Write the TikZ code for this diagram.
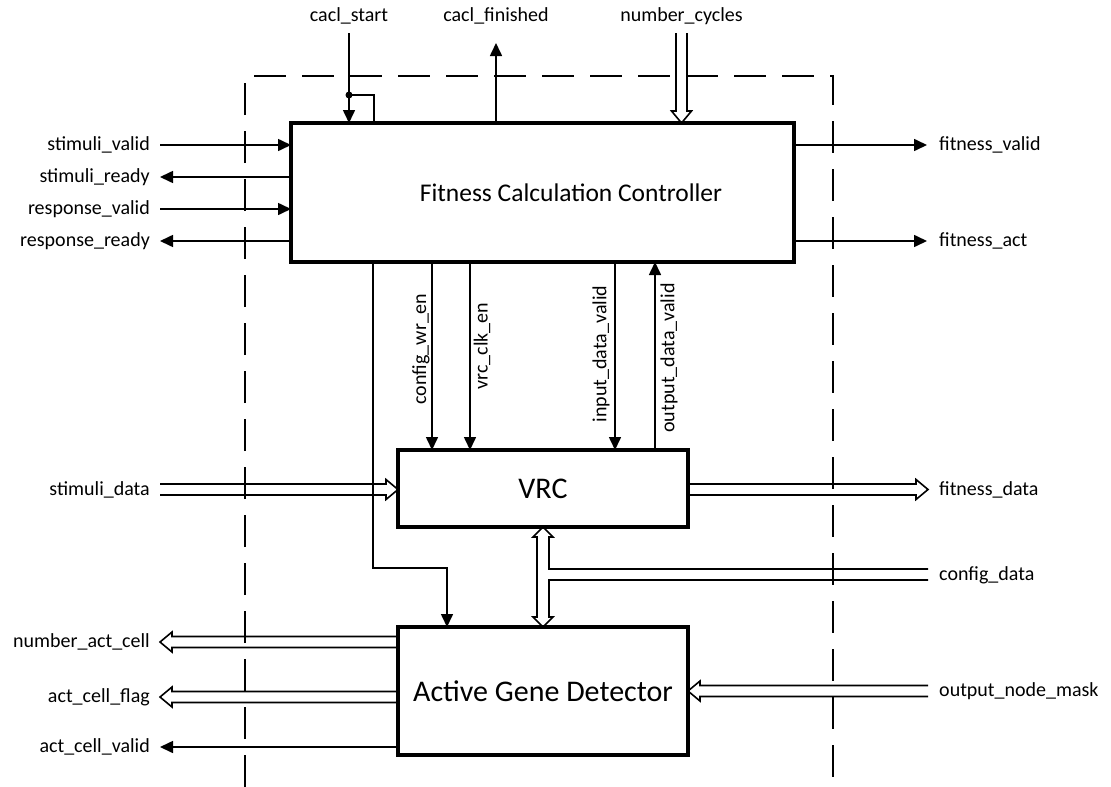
\documentclass[tikz,border=0pt]{standalone}
\usepackage{fontspec}
\setmainfont{Carlito}
\usetikzlibrary{arrows.meta,calc}

\tikzset{
  blk/.style={draw, line width=3.2pt, inner sep=0pt, outer sep=0pt},
  sig/.style={line width=1.6pt},
  tip/.style={-{Triangle[length=13pt,width=12pt]}},
  lbl/.style={inner sep=0pt, font=\fontsize{20}{24}\selectfont},
  ttl/.style={font=\fontsize{25.5}{30}\selectfont},
  bigttl/.style={font=\fontsize{30}{36}\selectfont},
  frame/.style={line width=1.8pt, dash pattern=on 32pt off 16pt},
  bus/.style={line width=1.6pt, line join=miter},
}

% hollow bus arrow from tail #1 to tip #2 (open tail)
\newcommand\busarrow[2]{%
  \coordinate (busbase) at ($(#2)!12pt!(#1)$);
  \draw[bus] ($(#1)!5.5pt!90:(#2)$) -- ($(busbase)!5.5pt!90:(#2)$)
    -- ($(busbase)!10pt!90:(#2)$) -- (#2) -- ($(busbase)!10pt!-90:(#2)$)
    -- ($(busbase)!5.5pt!-90:(#2)$) -- ($(#1)!5.5pt!-90:(#2)$);
}

\begin{document}
\begin{tikzpicture}[x=1pt,y=-1pt]
\useasboundingbox (0,0) rectangle (1111,787);
\fill[white] (0,0) rectangle (1111,787);

% module boundary
\draw[frame] (245,787) -- (245,76) -- (833,76) -- (833,787);

% blocks
\node[blk, minimum width=503pt, minimum height=139pt] (fcc) at (542.5,192.5) {};
\node[ttl] (fcct) at (571,193) {Fitness Calculation Controller};
\node[blk, bigttl, minimum width=290pt, minimum height=77pt] (vrc) at (543,488.5) {VRC};
\node[blk, bigttl, minimum width=290pt, minimum height=128pt] (agd) at (543,691) {Active Gene Detector};

% handshake signals on the left of the controller
\node[lbl, anchor=east] (l-sv) at (150,145) {stimuli\_valid};
\node[lbl, anchor=east] (l-sr) at (150,177) {stimuli\_ready};
\node[lbl, anchor=east] (l-rv) at (150,209) {response\_valid};
\node[lbl, anchor=east] (l-rr) at (150,241) {response\_ready};
\draw[sig, tip] ([xshift=10pt]l-sv.east) -- (l-sv -| fcc.west);
\draw[sig, tip] (l-sr -| fcc.west) -- ([xshift=10pt]l-sr.east);
\draw[sig, tip] ([xshift=10pt]l-rv.east) -- (l-rv -| fcc.west);
\draw[sig, tip] (l-rr -| fcc.west) -- ([xshift=10pt]l-rr.east);

% outputs on the right of the controller
\node[lbl, anchor=west] (r-fv) at (939,145) {fitness\_valid};
\node[lbl, anchor=west] (r-fa) at (939,241) {fitness\_act};
\draw[sig, tip] (r-fv -| fcc.east) -- ([xshift=-12pt]r-fv.west);
\draw[sig, tip] (r-fa -| fcc.east) -- ([xshift=-12pt]r-fa.west);

% top signals
\node[lbl] (t-cs) at (349,16) {cacl\_start};
\node[lbl] (t-cf) at (496,16) {cacl\_finished};
\node[lbl] (t-nc) at (681.5,16) {number\_cycles};
\coordinate (cs0) at (349,33);
\coordinate (csj) at (349,95);
\coordinate (csb) at (374,95);
\draw[sig, tip] (cs0) -- (cs0 |- fcc.north);
\draw[sig] (csj) -- (csb) -- (csb |- fcc.north);
\fill (csj) circle (3.5pt);
\coordinate (cf0) at (496,43);
\draw[sig, tip] (cf0 |- fcc.north) -- (cf0);
\coordinate (nc0) at (681.5,33);
\coordinate (nc1) at (nc0 |- fcc.north);
\busarrow{nc0}{nc1}

% control lines between controller and VRC
\coordinate (cw) at (432,350);
\coordinate (ck) at (470,350);
\coordinate (id) at (615,350);
\coordinate (od) at (655,350);
\draw[sig, tip] (cw |- fcc.south) -- (cw |- vrc.north);
\draw[sig, tip] (ck |- fcc.south) -- (ck |- vrc.north);
\draw[sig, tip] (id |- fcc.south) -- (id |- vrc.north);
\draw[sig, tip] (od |- vrc.north) -- (od |- fcc.south);
\node[lbl, rotate=90] (l-cw) at (421,349) {config\_wr\_en};
\node[lbl, rotate=90] (l-ck) at (482,346) {vrc\_clk\_en};
\node[lbl, rotate=90] (l-id) at (601,354) {input\_data\_valid};
\node[lbl, rotate=90] (l-od) at (669,358) {output\_data\_valid};

% controller to gene detector
\coordinate (k1) at (373,568);
\coordinate (k2) at (447,568);
\draw[sig, tip] (k1 |- fcc.south) -- (k1) -- (k2) -- (k2 |- agd.north);

% data buses around the VRC
\node[lbl, anchor=east] (l-sd) at (150,489.5) {stimuli\_data};
\node[lbl, anchor=west] (r-fd) at (939,489.5) {fitness\_data};
\coordinate (sd0) at ([xshift=10pt]l-sd.east);
\coordinate (sd1) at (l-sd -| vrc.west);
\busarrow{sd0}{sd1}
\coordinate (fd0) at (r-fd -| vrc.east);
\coordinate (fd1) at ([xshift=-11pt]r-fd.west);
\busarrow{fd0}{fd1}

% configuration bus joining the VRC / detector link
\node[lbl, anchor=west] (r-cd) at (939,575) {config\_data};
\coordinate (cd0) at ([xshift=-11pt]r-cd.west);
\draw[bus] ($(cd0)+(0,-6)$) -- ($(vrc.south)+(6,42)$) -- ($(vrc.south)+(6,10)$)
  -- ($(vrc.south)+(10,10)$) -- (vrc.south) -- ($(vrc.south)+(-10,10)$)
  -- ($(vrc.south)+(-6,10)$) -- ($(agd.north)+(-6,-10)$) -- ($(agd.north)+(-10,-10)$)
  -- (agd.north) -- ($(agd.north)+(10,-10)$) -- ($(agd.north)+(6,-10)$)
  -- ($(agd.north)+(6,-47)$) -- ($(cd0)+(0,5)$);

% gene detector ports
\node[lbl, anchor=east] (l-nac) at (150,642) {number\_act\_cell};
\node[lbl, anchor=east] (l-acf) at (150,697) {act\_cell\_flag};
\node[lbl, anchor=east] (l-acv) at (150,747) {act\_cell\_valid};
\node[lbl, anchor=west] (r-onm) at (939,691) {output\_node\_mask};
\coordinate (nac0) at (l-nac -| agd.west);
\coordinate (nac1) at ([xshift=10pt]l-nac.east);
\busarrow{nac0}{nac1}
\coordinate (acf0) at (l-acf -| agd.west);
\coordinate (acf1) at ([xshift=10pt]l-acf.east);
\busarrow{acf0}{acf1}
\draw[sig, tip] (l-acv -| agd.west) -- ([xshift=10pt]l-acv.east);
\coordinate (onm0) at ([xshift=-11pt]r-onm.west);
\coordinate (onm1) at (r-onm -| agd.east);
\busarrow{onm0}{onm1}
\end{tikzpicture}
\end{document}
